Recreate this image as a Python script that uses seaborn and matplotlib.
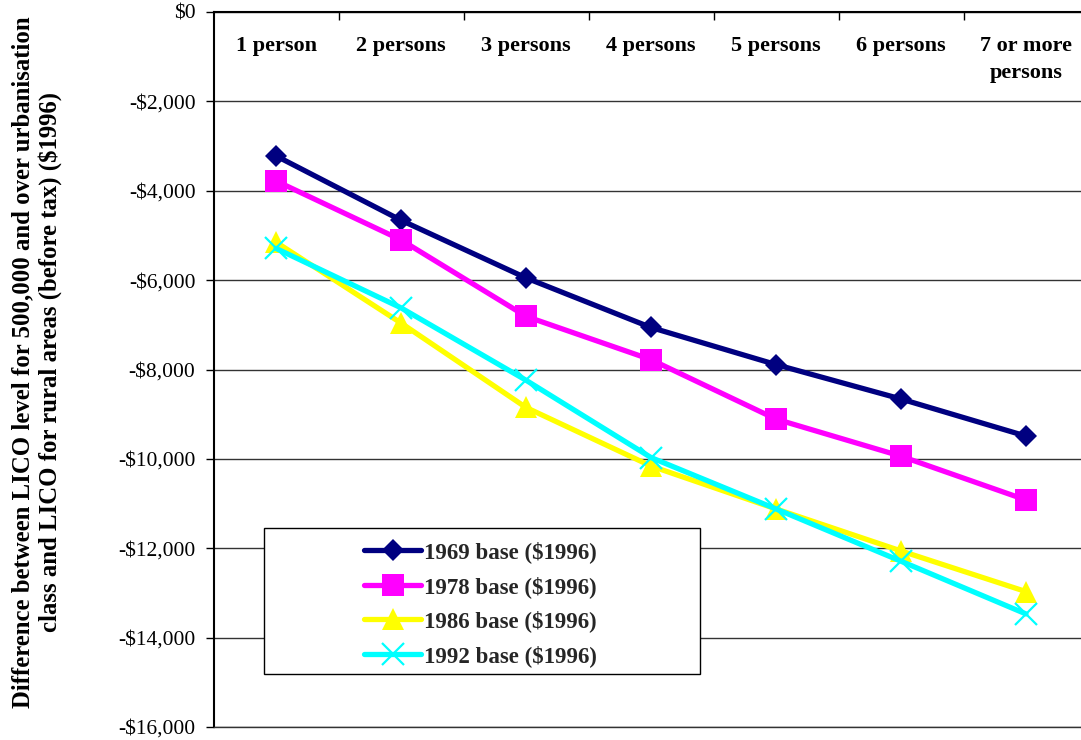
import numpy as np
import pandas as pd
import matplotlib
matplotlib.use("Agg")
import matplotlib.pyplot as plt
import matplotlib.transforms as mtransforms
from matplotlib.patches import Rectangle
from matplotlib.ticker import FuncFormatter, MultipleLocator, FixedLocator
import seaborn as sns

# Household size categories
categories = ["1 person", "2 persons", "3 persons", "4 persons",
              "5 persons", "6 persons", "7 or more\npersons"]

# LICO difference (500,000+ urban minus rural), before tax, in 1996 dollars
base_1969 = [-3220, -4660, -5950, -7060, -7890, -8660, -9490]
base_1978 = [-3780, -5100, -6810, -7780, -9110, -9940, -10920]
base_1986 = [-5150, -6960, -8850, -10160, -11120, -12060, -12970]
base_1992 = [-5290, -6620, -8240, -9970, -11120, -12290, -13470]

series_names = ["1969 base ($1996)", "1978 base ($1996)",
                "1986 base ($1996)", "1992 base ($1996)"]
series_values = [base_1969, base_1978, base_1986, base_1992]

sns.set_theme(style="white")
plt.rcParams["font.family"] = ["Liberation Serif", "DejaVu Serif"]

fig = plt.figure(figsize=(10.81, 7.40), dpi=100)
ax = fig.add_axes([213.5 / 1081, 1 - 727 / 740, 875 / 1081, 715 / 740])

styles = [
    dict(color="#000080", marker="D", markersize=11.5, markeredgewidth=0),
    dict(color="#FF00FF", marker="s", markersize=16, markeredgewidth=0),
    dict(color="#FFFF00", marker="^", markersize=16, markeredgewidth=0),
    dict(color="#00FFFF", marker="x", markersize=16, markeredgewidth=1.6),
]

for name, vals, st in zip(series_names, series_values, styles):
    df = pd.DataFrame({"household": categories, "difference": vals})
    sns.lineplot(data=df, x="household", y="difference", ax=ax,
                 label=name, linewidth=3.8, sort=False, legend=False,
                 color=st["color"], marker=st["marker"],
                 markersize=st["markersize"],
                 markeredgewidth=st["markeredgewidth"],
                 markeredgecolor=st["color"], markerfacecolor=st["color"],
                 clip_on=False, zorder=3)

ax.set_xlim(-0.5, len(categories) - 0.5)
ax.set_ylim(-16000, 0)

# y axis: dollar ticks every 2,000
ax.yaxis.set_major_locator(MultipleLocator(2000))
ax.yaxis.set_major_formatter(
    FuncFormatter(lambda v, p: ("-$" if v < 0 else "$") + f"{abs(v):,.0f}"))
ax.tick_params(axis="y", which="major", left=True, direction="out",
               length=6, width=1, color="black", pad=7,
               labelsize=15.5, labelcolor="black")
ax.grid(axis="y", color="#333333", linewidth=1)
ax.grid(axis="x", visible=False)

# x axis sits at the top ($0); category labels just beneath it
ax.set_xlabel("")
ax.set_ylabel("")
ax.tick_params(axis="x", which="major", bottom=False, top=False,
               labelbottom=False, labeltop=False)
ax.xaxis.set_minor_locator(FixedLocator(np.arange(0.5, len(categories) - 1, 1)))
ax.tick_params(axis="x", which="minor", top=True, bottom=False,
               direction="in", length=6, width=1, color="black")
trans = mtransforms.blended_transform_factory(ax.transData, ax.transAxes)
for i, cat in enumerate(categories):
    ax.text(i, 1 - 24 / 715, cat, transform=trans, ha="center", va="top",
            fontsize=16, fontweight="bold", color="black",
            multialignment="center", linespacing=1.45)

for side in ["left", "top"]:
    ax.spines[side].set_color("black")
    ax.spines[side].set_linewidth(1.5)
ax.spines["right"].set_visible(False)
ax.spines["bottom"].set_color("#333333")
ax.spines["bottom"].set_linewidth(1)

# Legend box
box_x0, box_x1 = (264 - 213.5) / 875, (700 - 213.5) / 875
box_y0, box_y1 = (727 - 674) / 715, (727 - 528) / 715
ax.add_patch(Rectangle((box_x0, box_y0), box_x1 - box_x0, box_y1 - box_y0,
                       transform=ax.transAxes, facecolor="white",
                       edgecolor="black", linewidth=1, zorder=4))
leg = ax.legend(loc="center", bbox_to_anchor=((box_x0 + box_x1) / 2 - 0.002,
                                              (box_y0 + box_y1) / 2 - 0.004),
                frameon=False, handlelength=2.5, handletextpad=0.1,
                labelspacing=0.55,
                prop=dict(family=["Liberation Serif"], weight="bold", size=16.5))
leg.set_zorder(5)

fig.text(37 / 1081, 1 - 362 / 740,
         "Difference between LICO level for 500,000 and over urbanisation\n"
         "class and LICO for rural areas (before tax) ($1996)",
         rotation=90, ha="center", va="center", multialignment="center",
         fontsize=17.8, fontweight="bold", color="black", linespacing=1.22)

fig.savefig("out.png", dpi=100, facecolor="white")
